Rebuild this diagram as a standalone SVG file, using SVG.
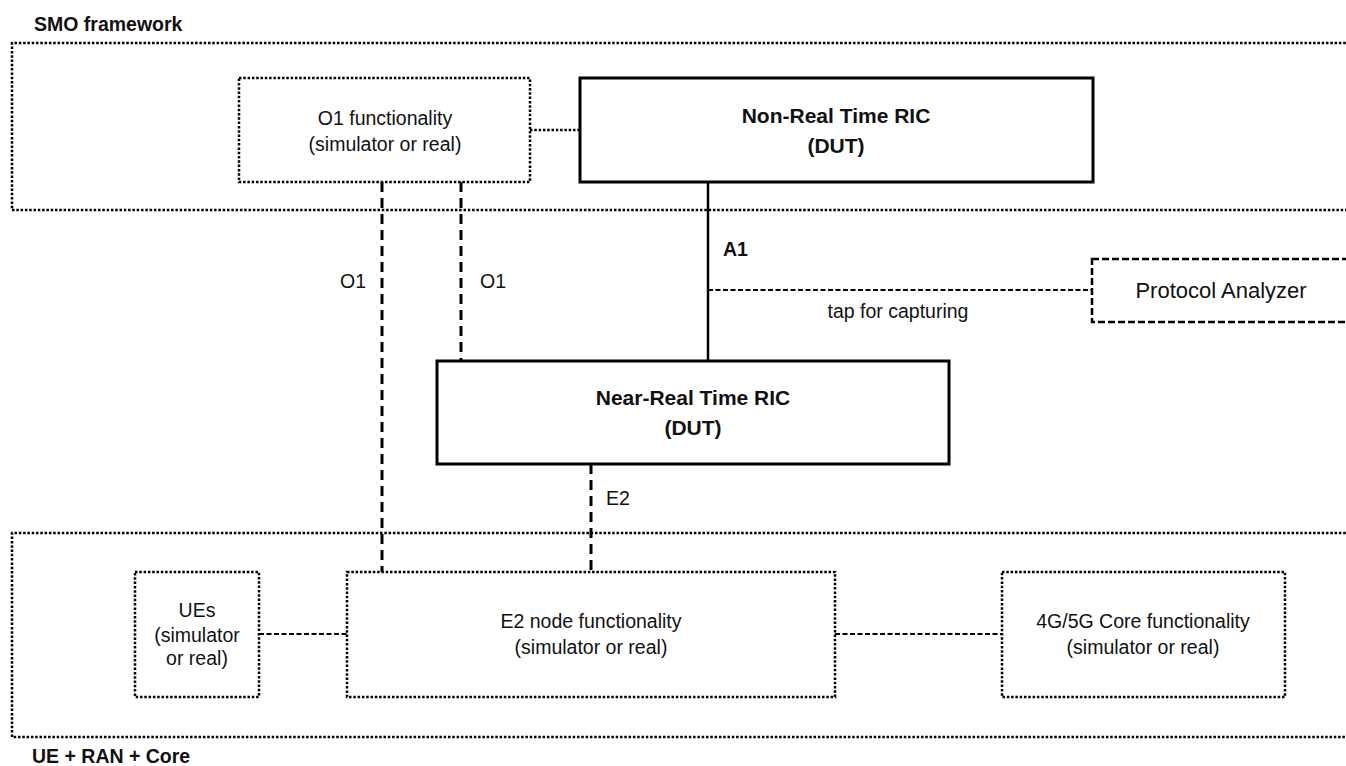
<svg xmlns="http://www.w3.org/2000/svg" width="1346" height="766" viewBox="0 0 1346 766">
  <style>
    .frame { fill: none; stroke: #000; stroke-width: 2.5; stroke-dasharray: 2.5 1.8; }
    .dotbox { fill: #fff; stroke: #000; stroke-width: 2.5; stroke-dasharray: 2.5 1.8; }
    .solidbox { fill: #fff; stroke: #000; stroke-width: 3; }
    .dashbox { fill: #fff; stroke: #000; stroke-width: 2.5; stroke-dasharray: 7 3; }
    .iface { fill: none; stroke: #000; stroke-width: 3; stroke-dasharray: 10 6; }
    .thin { fill: none; stroke: #000; stroke-width: 1.8; stroke-dasharray: 5 2.5; }
    .dotlink { fill: none; stroke: #000; stroke-width: 2.5; stroke-dasharray: 2.5 1.8; }
    .solid { fill: none; stroke: #000; stroke-width: 2.5; }
    text { font-family: "Liberation Sans", Arial, sans-serif; fill: #111; }
    .t { font-size: 19.5px; text-anchor: middle; }
    .lbl { font-size: 19.5px; }
    .b { font-size: 21px; font-weight: bold; text-anchor: middle; }
    .area { font-size: 19.5px; font-weight: bold; }
  </style>

  <!-- Domain frames (open to the right) -->
  <g id="smo-framework">
    <path class="frame" d="M1350,43 H12 V210 H1350"/>
    <text class="area" x="34" y="31">SMO framework</text>
  </g>
  <g id="ue-ran-core">
    <path class="frame" d="M1350,533 H12 V737 H1350"/>
    <text class="area" x="32" y="763">UE + RAN + Core</text>
  </g>

  <!-- Connectors -->
  <g id="connectors">
    <line class="dotlink" x1="530" y1="130" x2="580" y2="130"/>
    <line class="solid" x1="708" y1="182" x2="708" y2="361"/>
    <line class="thin" x1="708" y1="290" x2="1092" y2="290"/>
    <line class="iface" x1="382" y1="182" x2="382" y2="572"/>
    <line class="iface" x1="461" y1="182" x2="461" y2="361"/>
    <line class="iface" x1="591" y1="464" x2="591" y2="572"/>
    <line class="thin" x1="259" y1="634" x2="347" y2="634"/>
    <line class="thin" x1="835" y1="634" x2="1002" y2="634"/>
    <text class="lbl" x="340" y="288">O1</text>
    <text class="lbl" x="480" y="288">O1</text>
    <text class="lbl" x="723" y="256" font-weight="bold">A1</text>
    <text class="lbl" x="606" y="505">E2</text>
    <text class="t" x="898" y="318">tap for capturing</text>
  </g>

  <g id="o1-functionality">
    <rect class="dotbox" x="239" y="78" width="291" height="104"/>
    <text class="t" x="385" y="125">O1 functionality</text>
    <text class="t" x="385" y="151">(simulator or real)</text>
  </g>

  <g id="non-rt-ric">
    <rect class="solidbox" x="580" y="78" width="513" height="104"/>
    <text class="b" x="836" y="123">Non-Real Time RIC</text>
    <text class="b" x="836" y="153">(DUT)</text>
  </g>

  <g id="protocol-analyzer">
    <rect class="dashbox" x="1092" y="259" width="270" height="63"/>
    <text x="1221" y="298" font-size="22" text-anchor="middle">Protocol Analyzer</text>
  </g>

  <g id="near-rt-ric">
    <rect class="solidbox" x="437" y="361" width="512" height="103"/>
    <text class="b" x="693" y="405">Near-Real Time RIC</text>
    <text class="b" x="693" y="435">(DUT)</text>
  </g>

  <g id="ues">
    <rect class="dotbox" x="135" y="572" width="124" height="125"/>
    <text class="t" x="197" y="617">UEs</text>
    <text class="t" x="197" y="642">(simulator</text>
    <text class="t" x="197" y="665">or real)</text>
  </g>

  <g id="e2-node">
    <rect class="dotbox" x="347" y="572" width="488" height="125"/>
    <text class="t" x="591" y="628">E2 node functionality</text>
    <text class="t" x="591" y="654">(simulator or real)</text>
  </g>

  <g id="core">
    <rect class="dotbox" x="1002" y="572" width="283" height="125"/>
    <text class="t" x="1143" y="628">4G/5G Core functionality</text>
    <text class="t" x="1143" y="654">(simulator or real)</text>
  </g>
</svg>
